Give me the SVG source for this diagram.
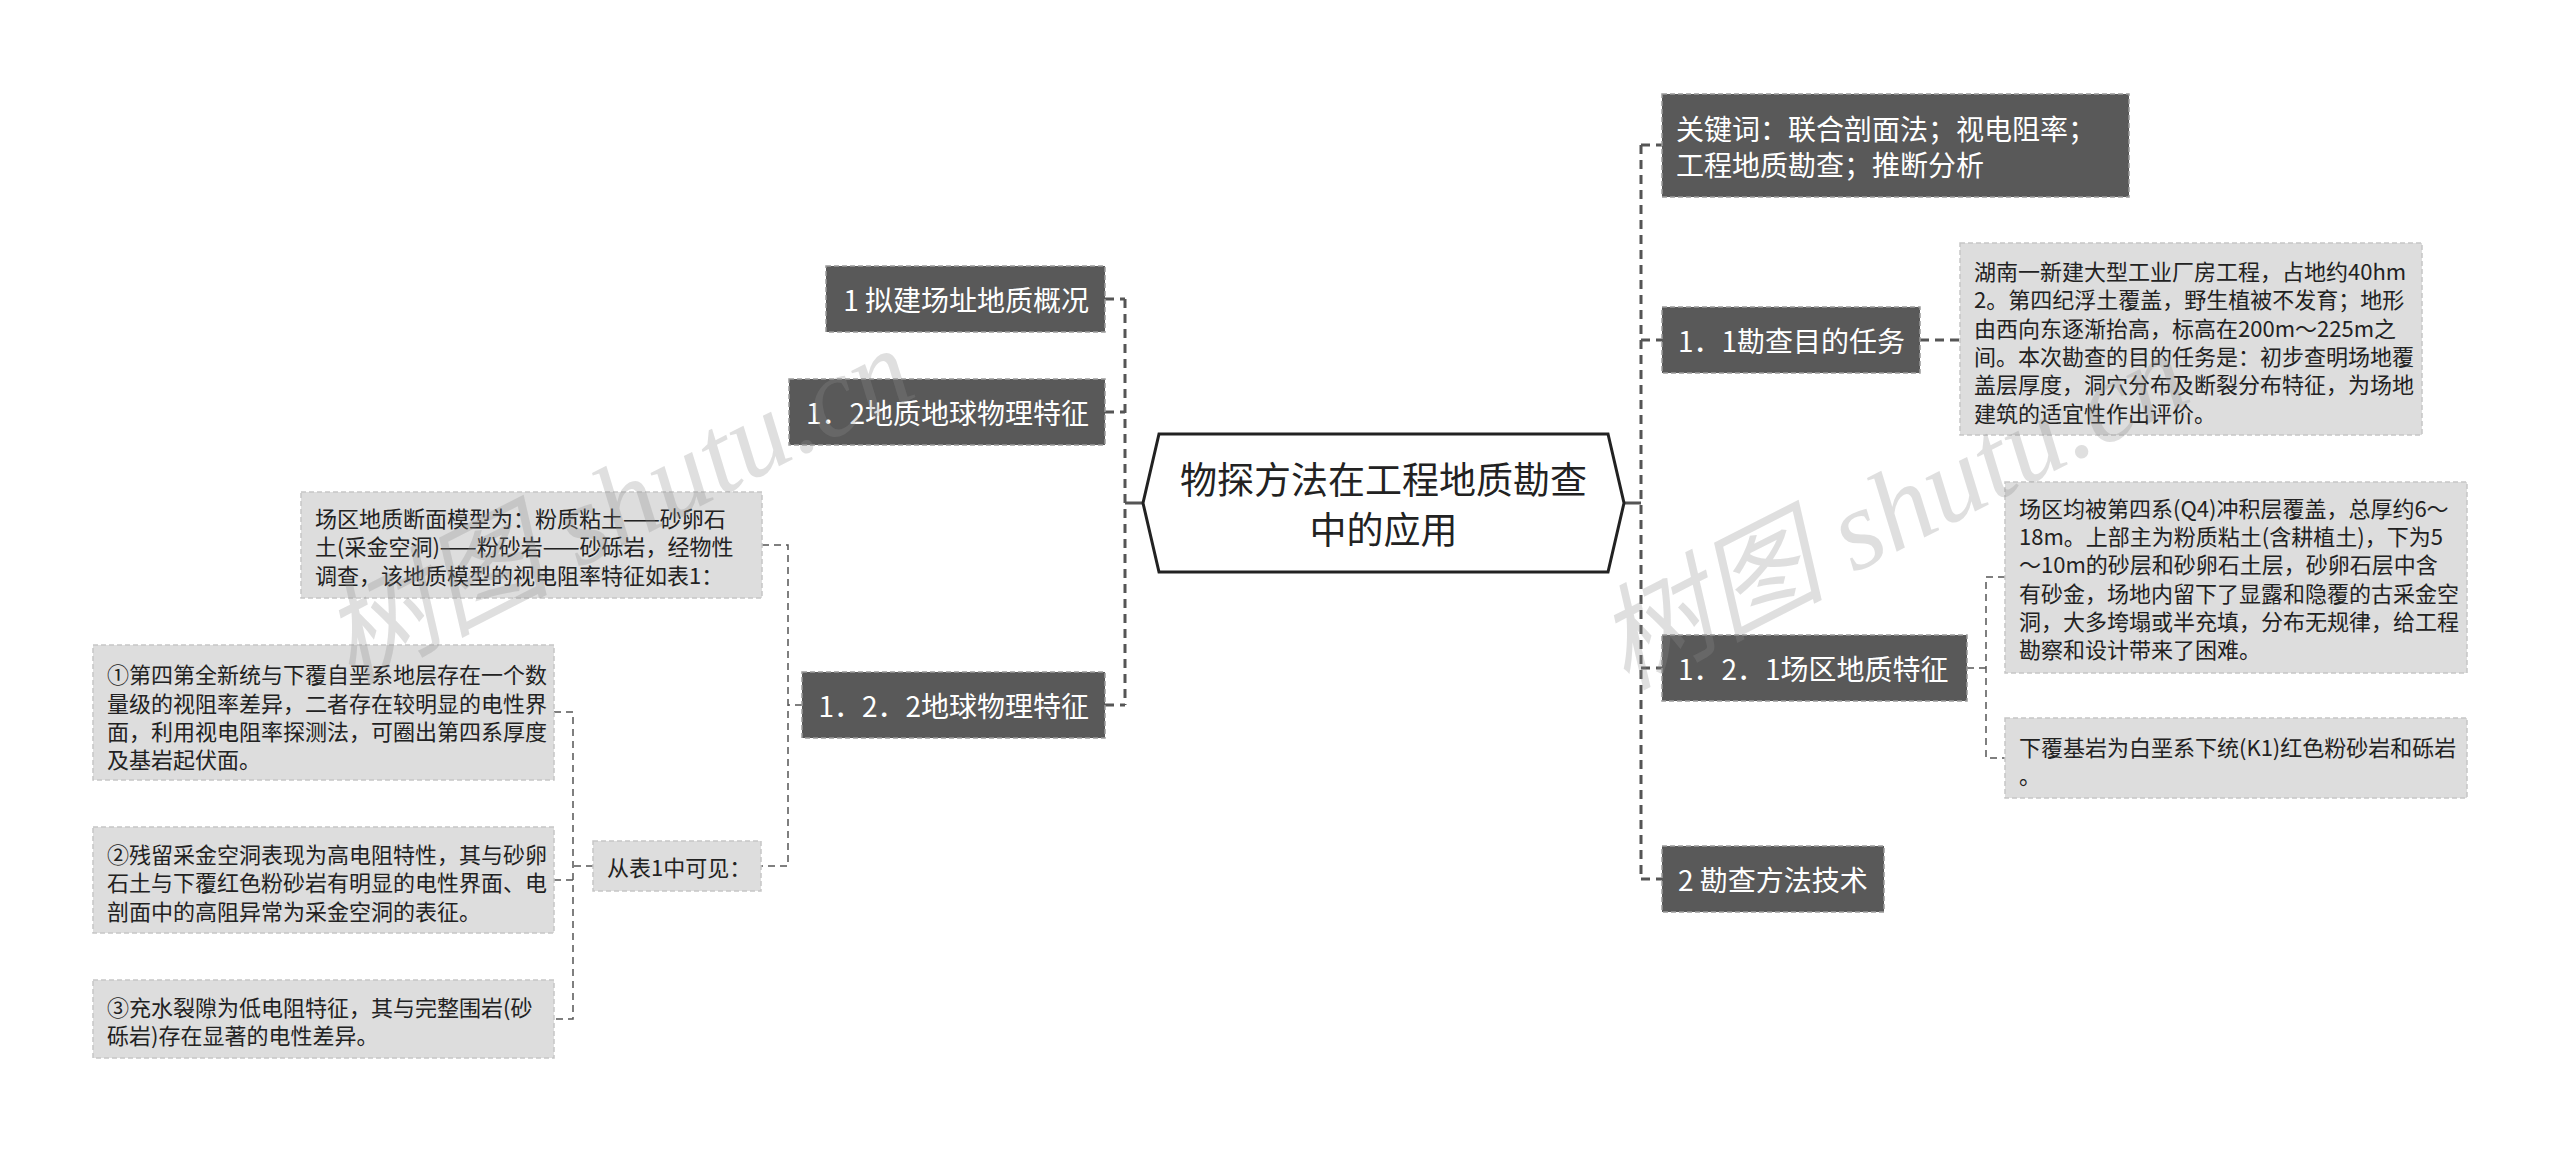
<svg xmlns="http://www.w3.org/2000/svg" width="2560" height="1153" viewBox="0 0 2560 1153">
<style>
text{font-family:"Noto Sans CJK SC","Noto Sans",sans-serif;dominant-baseline:central}
.dark rect{fill:#595959;stroke:#9a9a9a;stroke-width:1.5;stroke-dasharray:5 3}
.dark text{fill:#ffffff;font-size:28px}
.light rect{fill:#dddddd;stroke:#c6c6c6;stroke-width:1.5;stroke-dasharray:5 3}
.light text{fill:#222222;font-size:22px}
.main{fill:none;stroke:#555555;stroke-width:3;stroke-dasharray:9 6}
.sub{fill:none;stroke:#555555;stroke-width:1.5;stroke-dasharray:7 5}
.tick{fill:none;stroke:#555555;stroke-width:3}
.wm{font-family:"Liberation Serif","Noto Sans CJK SC",serif;font-style:italic;font-size:114px;fill:#8c8c8c;fill-opacity:0.28;dominant-baseline:auto}
</style>
<rect width="2560" height="1153" fill="#ffffff"/>
<g id="connectors">
<path class="tick" d="M1125 503 H1143 M1624 503 H1641"/>
<path class="main" d="M1125 299 V705"/>
<path class="main" d="M1105 299 H1125 M1105 412 H1125 M1105 705 H1125"/>
<path class="main" d="M1641 145 V879"/>
<path class="main" d="M1641 145 H1662 M1641 340 H1662 M1641 668 H1662 M1641 879 H1662"/>
<path class="main" d="M1920 340 H1960"/>
<path class="sub" d="M762 545 H788 V866 H761 M802 705 H788"/>
<path class="sub" d="M554 712 H573 V1019 H554 M554 880 H573 M593 866 H573"/>
<path class="sub" d="M2005 577 H1986 V758 H2005 M1967 668 H1986"/>
</g>
<g id="root">
<path d="M1143 503 L1159 434 L1608 434 L1624 503 L1608 572 L1159 572 Z" fill="#ffffff" stroke="#222222" stroke-width="3"/>
<text x="1383.5" y="478" text-anchor="middle" font-size="37" fill="#222222">物探方法在工程地质勘查</text>
<text x="1383.5" y="528" text-anchor="middle" font-size="37" fill="#222222">中的应用</text>
</g>
<g id="n-keywords" class="dark">
<rect x="1662" y="94" width="467" height="103"/>
<text x="1676" y="128">关键词：联合剖面法；视电阻率；</text>
<text x="1676" y="164">工程地质勘查；推断分析</text>
</g>
<g id="n-1-1" class="dark">
<rect x="1662" y="307" width="258" height="66"/>
<text x="1678" y="340">1．1勘查目的任务</text>
</g>
<g id="n-1-1-text" class="light">
<rect x="1960" y="243" width="462" height="192"/>
<text x="1974" y="270">湖南一新建大型工业厂房工程，占地约40hm</text>
<text x="1974" y="298">2。第四纪浮土覆盖，野生植被不发育；地形</text>
<text x="1974" y="327">由西向东逐渐抬高，标高在200m～225m之</text>
<text x="1974" y="355">间。本次勘查的目的任务是：初步查明场地覆</text>
<text x="1974" y="383">盖层厚度，洞穴分布及断裂分布特征，为场地</text>
<text x="1974" y="412">建筑的适宜性作出评价。</text>
</g>
<g id="n-1-2-1" class="dark">
<rect x="1662" y="635" width="305" height="66"/>
<text x="1678" y="668">1．2．1场区地质特征</text>
</g>
<g id="n-1-2-1-a" class="light">
<rect x="2005" y="482" width="462" height="191"/>
<text x="2019" y="507">场区均被第四系(Q4)冲积层覆盖，总厚约6～</text>
<text x="2019" y="535">18m。上部主为粉质粘土(含耕植土)，下为5</text>
<text x="2019" y="563">～10m的砂层和砂卵石土层，砂卵石层中含</text>
<text x="2019" y="592">有砂金，场地内留下了显露和隐覆的古采金空</text>
<text x="2019" y="620">洞，大多垮塌或半充填，分布无规律，给工程</text>
<text x="2019" y="648">勘察和设计带来了困难。</text>
</g>
<g id="n-1-2-1-b" class="light">
<rect x="2005" y="718" width="462" height="80"/>
<text x="2019" y="746">下覆基岩为白垩系下统(K1)红色粉砂岩和砾岩</text>
<text x="2019" y="774">。</text>
</g>
<g id="n-2" class="dark">
<rect x="1662" y="846" width="222" height="66"/>
<text x="1678" y="879">2 勘查方法技术</text>
</g>
<g id="n-1" class="dark">
<rect x="826" y="266" width="279" height="66"/>
<text x="1089" y="299" text-anchor="end">1 拟建场址地质概况</text>
</g>
<g id="n-1-2" class="dark">
<rect x="789" y="379" width="316" height="66"/>
<text x="1089" y="412" text-anchor="end">1．2地质地球物理特征</text>
</g>
<g id="n-1-2-2" class="dark">
<rect x="802" y="672" width="303" height="66"/>
<text x="1089" y="705" text-anchor="end">1．2．2地球物理特征</text>
</g>
<g id="n-model" class="light">
<rect x="301" y="492" width="461" height="106"/>
<text x="315" y="517">场区地质断面模型为：粉质粘土——砂卵石</text>
<text x="315" y="545">土(采金空洞)——粉砂岩——砂砾岩，经物性</text>
<text x="315" y="574">调查，该地质模型的视电阻率特征如表1：</text>
</g>
<g id="n-table" class="light">
<rect x="593" y="841" width="168" height="50"/>
<text x="607" y="866">从表1中可见：</text>
</g>
<g id="n-item1" class="light">
<rect x="93" y="645" width="461" height="135"/>
<text x="107" y="673">①第四第全新统与下覆自垩系地层存在一个数</text>
<text x="107" y="702">量级的视阻率差异，二者存在较明显的电性界</text>
<text x="107" y="730">面，利用视电阻率探测法，可圈出第四系厚度</text>
<text x="107" y="758">及基岩起伏面。</text>
</g>
<g id="n-item2" class="light">
<rect x="93" y="827" width="461" height="106"/>
<text x="107" y="853">②残留采金空洞表现为高电阻特性，其与砂卵</text>
<text x="107" y="881">石土与下覆红色粉砂岩有明显的电性界面、电</text>
<text x="107" y="910">剖面中的高阻异常为采金空洞的表征。</text>
</g>
<g id="n-item3" class="light">
<rect x="93" y="980" width="461" height="78"/>
<text x="107" y="1006">③充水裂隙为低电阻特征，其与完整围岩(砂</text>
<text x="107" y="1034">砾岩)存在显著的电性差异。</text>
</g>
<g id="watermarks">
<text class="wm" x="350" y="685" transform="rotate(-27 350 685)">树图 shutu.cn</text>
<text class="wm" x="1625" y="690" transform="rotate(-27 1625 690)">树图 shutu.cn</text>
</g>
</svg>
